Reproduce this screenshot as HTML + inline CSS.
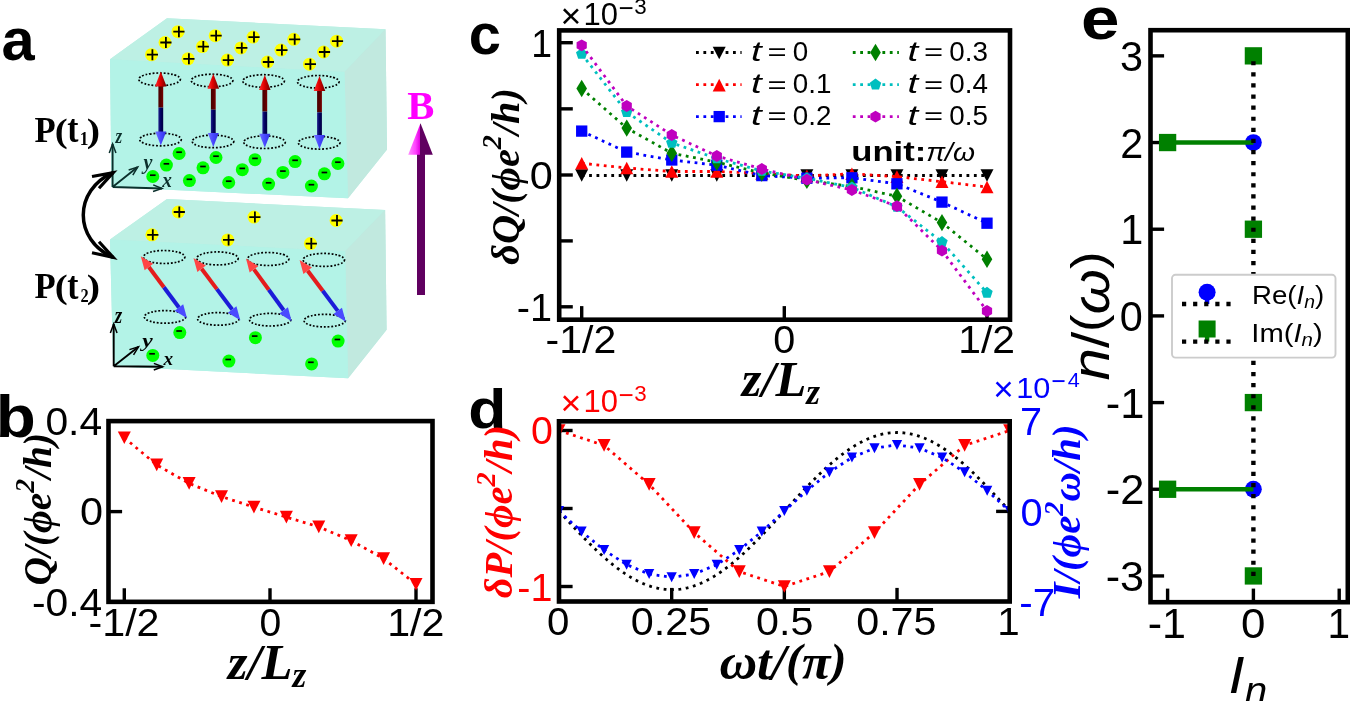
<!DOCTYPE html>
<html><head><meta charset="utf-8"><title>figure</title>
<style>html,body{margin:0;padding:0;background:#fff;overflow:hidden}svg{display:block;will-change:transform}text{font-kerning:none;font-variant-ligatures:none}</style>
</head><body>
<svg width="1350" height="701" viewBox="0 0 1350 701">
<rect width="1350" height="701" fill="#fff"/>
<defs>
<linearGradient id="gRedHead" x1="0" y1="0" x2="1" y2="0"><stop offset="0" stop-color="#ff3030"/><stop offset="0.45" stop-color="#e00000"/><stop offset="1" stop-color="#700000"/></linearGradient>
<linearGradient id="gRedShaft" x1="0" y1="0" x2="1" y2="0"><stop offset="0" stop-color="#4a0000"/><stop offset="0.5" stop-color="#560000"/><stop offset="1" stop-color="#7a0000"/></linearGradient>
<linearGradient id="gBlueShaft" x1="0" y1="0" x2="1" y2="0"><stop offset="0" stop-color="#20208a"/><stop offset="0.5" stop-color="#000060"/><stop offset="1" stop-color="#000040"/></linearGradient>
<linearGradient id="gBlueHead" x1="0" y1="0" x2="1" y2="0"><stop offset="0" stop-color="#7070ff"/><stop offset="0.5" stop-color="#4848ff"/><stop offset="1" stop-color="#3030e0"/></linearGradient>
<linearGradient id="gMagHead" x1="0" y1="0" x2="1" y2="0"><stop offset="0" stop-color="#ff90ff"/><stop offset="0.3" stop-color="#ff40ff"/><stop offset="0.48" stop-color="#e000e0"/><stop offset="0.5" stop-color="#600060"/><stop offset="1" stop-color="#600060"/></linearGradient>
<linearGradient id="gMagShaft" x1="0" y1="0" x2="1" y2="0"><stop offset="0" stop-color="#80107a"/><stop offset="0.5" stop-color="#5a0058"/><stop offset="1" stop-color="#400040"/></linearGradient>
<linearGradient id="gTilt" x1="0" y1="0" x2="1" y2="0"><stop offset="0" stop-color="#ff4040"/><stop offset="1" stop-color="#c00000"/></linearGradient>
</defs>
<polygon points="110.00,59.20 167.00,18.30 385.50,29.30 387.00,149.60 348.00,198.30 111.50,187.00" fill="#b8ede2"/>
<polygon points="110.00,239.60 167.00,199.10 385.10,210.00 386.60,329.70 348.10,378.20 113.20,366.20" fill="#b8ede2"/>
<polygon points="110.00,59.20 167.00,18.30 385.50,29.30 344.50,72.00" fill="#bdf0e4"/>
<polygon points="344.50,72.00 385.50,29.30 387.00,149.60 348.00,198.30" fill="#c1e9df"/>
<polygon points="110.00,59.20 344.50,72.00 348.00,198.30 111.50,187.00" fill="#b3f3e7"/>
<polygon points="110.00,239.60 167.00,199.10 385.10,210.00 345.20,251.30" fill="#bdf0e4"/>
<polygon points="345.20,251.30 385.10,210.00 386.60,329.70 348.10,378.20" fill="#c1e9df"/>
<polygon points="110.00,239.60 345.20,251.30 348.10,378.20 113.20,366.20" fill="#b3f3e7"/>
<circle cx="151.5" cy="54.7" r="6.5" fill="#ffff00"/>
<path d="M146.80,54.7H158.00M152.40,49.2V60.2" stroke="#000" stroke-width="1.8"/>
<circle cx="165" cy="42.5" r="6.5" fill="#ffff00"/>
<path d="M160.30,42.5H171.50M165.90,37.0V48.0" stroke="#000" stroke-width="1.8"/>
<circle cx="178" cy="31.7" r="6.5" fill="#ffff00"/>
<path d="M173.30,31.7H184.50M178.90,26.2V37.2" stroke="#000" stroke-width="1.8"/>
<circle cx="188" cy="58.8" r="6.5" fill="#ffff00"/>
<path d="M183.30,58.8H194.50M188.90,53.3V64.3" stroke="#000" stroke-width="1.8"/>
<circle cx="202.4" cy="46.6" r="6.5" fill="#ffff00"/>
<path d="M197.70,46.6H208.90M203.30,41.1V52.1" stroke="#000" stroke-width="1.8"/>
<circle cx="215.2" cy="35.7" r="6.5" fill="#ffff00"/>
<path d="M210.50,35.7H221.70M216.10,30.200000000000003V41.2" stroke="#000" stroke-width="1.8"/>
<circle cx="227.4" cy="60.1" r="6.5" fill="#ffff00"/>
<path d="M222.70,60.1H233.90M228.30,54.6V65.6" stroke="#000" stroke-width="1.8"/>
<circle cx="240.9" cy="47.9" r="6.5" fill="#ffff00"/>
<path d="M236.20,47.9H247.40M241.80,42.4V53.4" stroke="#000" stroke-width="1.8"/>
<circle cx="253.1" cy="37.1" r="6.5" fill="#ffff00"/>
<path d="M248.40,37.1H259.60M254.00,31.6V42.6" stroke="#000" stroke-width="1.8"/>
<circle cx="267.5" cy="62" r="6.5" fill="#ffff00"/>
<path d="M262.80,62H274.00M268.40,56.5V67.5" stroke="#000" stroke-width="1.8"/>
<circle cx="281" cy="50.1" r="6.5" fill="#ffff00"/>
<path d="M276.30,50.1H287.50M281.90,44.6V55.6" stroke="#000" stroke-width="1.8"/>
<circle cx="293.8" cy="39.3" r="6.5" fill="#ffff00"/>
<path d="M289.10,39.3H300.30M294.70,33.8V44.8" stroke="#000" stroke-width="1.8"/>
<circle cx="309.5" cy="64.2" r="6.5" fill="#ffff00"/>
<path d="M304.80,64.2H316.00M310.40,58.7V69.7" stroke="#000" stroke-width="1.8"/>
<circle cx="323.6" cy="52" r="6.5" fill="#ffff00"/>
<path d="M318.90,52H330.10M324.50,46.5V57.5" stroke="#000" stroke-width="1.8"/>
<circle cx="336.6" cy="41.2" r="6.5" fill="#ffff00"/>
<path d="M331.90,41.2H343.10M337.50,35.7V46.7" stroke="#000" stroke-width="1.8"/>
<circle cx="152.8" cy="176.5" r="6.5" fill="#00ff00"/>
<path d="M150.00,175.20H155.60" stroke="#000" stroke-width="1.7"/>
<circle cx="166.4" cy="165.1" r="6.5" fill="#00ff00"/>
<path d="M163.60,163.80H169.20" stroke="#000" stroke-width="1.7"/>
<circle cx="179.1" cy="153.5" r="6.5" fill="#00ff00"/>
<path d="M176.30,152.20H181.90" stroke="#000" stroke-width="1.7"/>
<circle cx="189.4" cy="180.6" r="6.5" fill="#00ff00"/>
<path d="M186.60,179.30H192.20" stroke="#000" stroke-width="1.7"/>
<circle cx="203" cy="167.79999999999998" r="6.5" fill="#00ff00"/>
<path d="M200.20,166.50H205.80" stroke="#000" stroke-width="1.7"/>
<circle cx="216" cy="157.5" r="6.5" fill="#00ff00"/>
<path d="M213.20,156.20H218.80" stroke="#000" stroke-width="1.7"/>
<circle cx="228.7" cy="182.5" r="6.5" fill="#00ff00"/>
<path d="M225.90,181.20H231.50" stroke="#000" stroke-width="1.7"/>
<circle cx="242.3" cy="169.7" r="6.5" fill="#00ff00"/>
<path d="M239.50,168.40H245.10" stroke="#000" stroke-width="1.7"/>
<circle cx="255" cy="159.7" r="6.5" fill="#00ff00"/>
<path d="M252.20,158.40H257.80" stroke="#000" stroke-width="1.7"/>
<circle cx="268.6" cy="184.1" r="6.5" fill="#00ff00"/>
<path d="M265.80,182.80H271.40" stroke="#000" stroke-width="1.7"/>
<circle cx="282.9" cy="172.39999999999998" r="6.5" fill="#00ff00"/>
<path d="M280.10,171.10H285.70" stroke="#000" stroke-width="1.7"/>
<circle cx="295.1" cy="161.6" r="6.5" fill="#00ff00"/>
<path d="M292.30,160.30H297.90" stroke="#000" stroke-width="1.7"/>
<circle cx="311.4" cy="186.0" r="6.5" fill="#00ff00"/>
<path d="M308.60,184.70H314.20" stroke="#000" stroke-width="1.7"/>
<circle cx="324.4" cy="173.79999999999998" r="6.5" fill="#00ff00"/>
<path d="M321.60,172.50H327.20" stroke="#000" stroke-width="1.7"/>
<circle cx="337.9" cy="163.5" r="6.5" fill="#00ff00"/>
<path d="M335.10,162.20H340.70" stroke="#000" stroke-width="1.7"/>
<ellipse cx="159.60000000000002" cy="79.3" rx="20.8" ry="6.3" fill="none" stroke="#000" stroke-width="1.7" stroke-dasharray="1.8 1.8"/>
<ellipse cx="160.5" cy="139.5" rx="20.8" ry="6.3" fill="none" stroke="#000" stroke-width="1.7" stroke-dasharray="1.8 1.8"/>
<ellipse cx="212.10000000000002" cy="80.5" rx="20.8" ry="6.3" fill="none" stroke="#000" stroke-width="1.7" stroke-dasharray="1.8 1.8"/>
<ellipse cx="213.0" cy="141.4" rx="20.8" ry="6.3" fill="none" stroke="#000" stroke-width="1.7" stroke-dasharray="1.8 1.8"/>
<ellipse cx="263.6" cy="81.0" rx="20.8" ry="6.3" fill="none" stroke="#000" stroke-width="1.7" stroke-dasharray="1.8 1.8"/>
<ellipse cx="264.5" cy="142.2" rx="20.8" ry="6.3" fill="none" stroke="#000" stroke-width="1.7" stroke-dasharray="1.8 1.8"/>
<ellipse cx="318.3" cy="81.8" rx="20.8" ry="6.3" fill="none" stroke="#000" stroke-width="1.7" stroke-dasharray="1.8 1.8"/>
<ellipse cx="319.2" cy="142.8" rx="20.8" ry="6.3" fill="none" stroke="#000" stroke-width="1.7" stroke-dasharray="1.8 1.8"/>
<rect x="158.4" y="85.9" width="4.8" height="21.69999999999999" fill="url(#gRedShaft)"/>
<rect x="158.4" y="107.6" width="4.8" height="24.5" fill="url(#gBlueShaft)"/>
<polygon points="160.80,71.40 166.60,86.40 155.00,86.40" fill="url(#gRedHead)"/>
<polygon points="160.80,145.60 166.30,131.60 155.30,131.60" fill="url(#gBlueHead)"/>
<rect x="210.9" y="88.2" width="4.8" height="21.5" fill="url(#gRedShaft)"/>
<rect x="210.9" y="109.7" width="4.8" height="23.700000000000003" fill="url(#gBlueShaft)"/>
<polygon points="213.30,73.70 219.10,88.70 207.50,88.70" fill="url(#gRedHead)"/>
<polygon points="213.30,146.90 218.80,132.90 207.80,132.90" fill="url(#gBlueHead)"/>
<rect x="262.40000000000003" y="89.5" width="4.8" height="22.099999999999994" fill="url(#gRedShaft)"/>
<rect x="262.40000000000003" y="111.6" width="4.8" height="22.599999999999994" fill="url(#gBlueShaft)"/>
<polygon points="264.80,75.00 270.60,90.00 259.00,90.00" fill="url(#gRedHead)"/>
<polygon points="264.80,147.70 270.30,133.70 259.30,133.70" fill="url(#gBlueHead)"/>
<rect x="317.1" y="90.4" width="4.8" height="22.0" fill="url(#gRedShaft)"/>
<rect x="317.1" y="112.4" width="4.8" height="23.099999999999994" fill="url(#gBlueShaft)"/>
<polygon points="319.50,75.90 325.30,90.90 313.70,90.90" fill="url(#gRedHead)"/>
<polygon points="319.50,149.00 325.00,135.00 314.00,135.00" fill="url(#gBlueHead)"/>
<path d="M112.6,187.0V144.0M112.6,187.0L137.7,167.0M112.6,187.0L162.0,188.5" stroke="#0b302c" stroke-width="1.9" fill="none"/>
<path d="M115.95,152.89L112.6,144.0L109.25,152.89" stroke="#0b302c" stroke-width="1.5" fill="none"/>
<path d="M132.83,175.16L137.7,167.0L128.66,169.92" stroke="#0b302c" stroke-width="1.5" fill="none"/>
<path d="M153.01,191.58L162.0,188.5L153.21,184.89" stroke="#0b302c" stroke-width="1.5" fill="none"/>
<text transform="translate(115.39,143.30) scale(0.8383,1)" font-family="Liberation Serif" font-size="20.48" font-weight="bold" font-style="italic" fill="#0b302c">z</text>
<text transform="translate(143.61,168.66) scale(0.9559,1)" font-family="Liberation Serif" font-size="21.04" font-weight="bold" font-style="italic" fill="#0b302c">y</text>
<text transform="translate(162.24,186.50) scale(0.9409,1)" font-family="Liberation Serif" font-size="20.48" font-weight="bold" font-style="italic" fill="#0b302c">x</text>
<circle cx="178.4" cy="212" r="6.5" fill="#ffff00"/>
<path d="M173.70,212H184.90M179.30,206.5V217.5" stroke="#000" stroke-width="1.8"/>
<circle cx="151.9" cy="234.8" r="6.5" fill="#ffff00"/>
<path d="M147.20,234.8H158.40M152.80,229.3V240.3" stroke="#000" stroke-width="1.8"/>
<circle cx="254" cy="217.1" r="6.5" fill="#ffff00"/>
<path d="M249.30,217.1H260.50M254.90,211.6V222.6" stroke="#000" stroke-width="1.8"/>
<circle cx="227.7" cy="239.9" r="6.5" fill="#ffff00"/>
<path d="M223.00,239.9H234.20M228.60,234.4V245.4" stroke="#000" stroke-width="1.8"/>
<circle cx="336.1" cy="220.5" r="6.5" fill="#ffff00"/>
<path d="M331.40,220.5H342.60M337.00,215.0V226.0" stroke="#000" stroke-width="1.8"/>
<circle cx="310.4" cy="243.6" r="6.5" fill="#ffff00"/>
<path d="M305.70,243.6H316.90M311.30,238.1V249.1" stroke="#000" stroke-width="1.8"/>
<circle cx="179.8" cy="332.6" r="6.5" fill="#00ff00"/>
<path d="M176.30,331.00H181.90" stroke="#000" stroke-width="1.7"/>
<circle cx="152.8" cy="355.4" r="6.5" fill="#00ff00"/>
<path d="M149.30,353.80H154.90" stroke="#000" stroke-width="1.7"/>
<circle cx="255.4" cy="337.7" r="6.5" fill="#00ff00"/>
<path d="M251.90,336.10H257.50" stroke="#000" stroke-width="1.7"/>
<circle cx="228.9" cy="361.1" r="6.5" fill="#00ff00"/>
<path d="M225.40,359.50H231.00" stroke="#000" stroke-width="1.7"/>
<circle cx="338.1" cy="341.1" r="6.5" fill="#00ff00"/>
<path d="M334.60,339.50H340.20" stroke="#000" stroke-width="1.7"/>
<circle cx="311.6" cy="363.9" r="6.5" fill="#00ff00"/>
<path d="M308.10,362.30H313.70" stroke="#000" stroke-width="1.7"/>
<ellipse cx="164.2" cy="257" rx="20.7" ry="6.5" fill="none" stroke="#000" stroke-width="1.7" stroke-dasharray="1.8 1.8"/>
<ellipse cx="165" cy="316.9" rx="20.7" ry="6.3" fill="none" stroke="#000" stroke-width="1.7" stroke-dasharray="1.8 1.8"/>
<ellipse cx="217.5" cy="258.4" rx="20.7" ry="6.5" fill="none" stroke="#000" stroke-width="1.7" stroke-dasharray="1.8 1.8"/>
<ellipse cx="218.3" cy="318.9" rx="20.7" ry="6.3" fill="none" stroke="#000" stroke-width="1.7" stroke-dasharray="1.8 1.8"/>
<ellipse cx="268.2" cy="259" rx="20.7" ry="6.5" fill="none" stroke="#000" stroke-width="1.7" stroke-dasharray="1.8 1.8"/>
<ellipse cx="270.2" cy="319.7" rx="20.7" ry="6.3" fill="none" stroke="#000" stroke-width="1.7" stroke-dasharray="1.8 1.8"/>
<ellipse cx="323.8" cy="259.9" rx="20.7" ry="6.5" fill="none" stroke="#000" stroke-width="1.7" stroke-dasharray="1.8 1.8"/>
<ellipse cx="324.7" cy="320.6" rx="20.7" ry="6.3" fill="none" stroke="#000" stroke-width="1.7" stroke-dasharray="1.8 1.8"/>
<polygon points="147.25,268.23 162.30,288.44 165.50,286.06 150.46,265.84" fill="#e41c1c"/>
<polygon points="162.30,288.44 177.34,308.66 180.55,306.27 165.50,286.06" fill="#1c1cd8"/>
<polygon points="140.80,256.20 144.61,270.19 153.11,263.87" fill="#ff4545"/>
<polygon points="187.00,318.30 174.69,310.63 183.19,304.31" fill="#4a4aff"/>
<polygon points="200.00,269.90 215.30,290.30 218.50,287.90 203.20,267.50" fill="#e41c1c"/>
<polygon points="215.30,290.30 230.60,310.70 233.80,308.30 218.50,287.90" fill="#1c1cd8"/>
<polygon points="193.50,257.90 197.36,271.88 205.84,265.52" fill="#ff4545"/>
<polygon points="240.30,320.30 227.96,312.68 236.44,306.32" fill="#4a4aff"/>
<polygon points="252.31,270.50 267.18,290.98 270.42,288.62 255.55,268.15" fill="#e41c1c"/>
<polygon points="267.18,290.98 282.05,311.45 285.29,309.10 270.42,288.62" fill="#1c1cd8"/>
<polygon points="246.00,258.40 249.64,272.44 258.22,266.21" fill="#ff4545"/>
<polygon points="291.60,321.20 279.38,313.39 287.96,307.16" fill="#4a4aff"/>
<polygon points="306.08,271.91 321.10,292.00 324.30,289.60 309.29,269.52" fill="#e41c1c"/>
<polygon points="321.10,292.00 336.11,312.08 339.32,309.69 324.30,289.60" fill="#1c1cd8"/>
<polygon points="299.60,259.90 303.44,273.89 311.93,267.54" fill="#ff4545"/>
<polygon points="345.80,321.70 333.47,314.06 341.96,307.71" fill="#4a4aff"/>
<path d="M113.7,366.2V324.0M113.7,366.2L138.5,346.8M113.7,366.2L162.7,366.8" stroke="#000000" stroke-width="1.9" fill="none"/>
<path d="M117.05,332.89L113.7,324.0L110.35,332.89" stroke="#000000" stroke-width="1.5" fill="none"/>
<path d="M133.56,354.91L138.5,346.8L129.44,349.64" stroke="#000000" stroke-width="1.5" fill="none"/>
<path d="M153.77,370.04L162.7,366.8L153.85,363.34" stroke="#000000" stroke-width="1.5" fill="none"/>
<text transform="translate(114.84,323.40) scale(0.8118,1)" font-family="Liberation Serif" font-size="23.53" font-weight="bold" font-style="italic" fill="#000000">z</text>
<text transform="translate(142.26,347.01) scale(1.2436,1)" font-family="Liberation Serif" font-size="18.97" font-weight="bold" font-style="italic" fill="#000000">y</text>
<text transform="translate(163.54,364.50) scale(0.9720,1)" font-family="Liberation Serif" font-size="19.83" font-weight="bold" font-style="italic" fill="#000000">x</text>
<path d="M113.2,172.6 C73.3,190 73.3,240 113.2,257.4" fill="none" stroke="#000" stroke-width="3.5"/>
<path d="M92,176.5 L113.2,172.6 L99,188.3" fill="none" stroke="#000" stroke-width="3.2" stroke-linejoin="miter"/>
<path d="M92,252.7 L113.2,257.4 L99,241.7" fill="none" stroke="#000" stroke-width="3.2" stroke-linejoin="miter"/>
<text transform="translate(34.41,141.70) scale(0.9826,1)" font-family="Liberation Serif" font-size="35.28" font-weight="bold" font-style="normal" fill="#000">P</text>
<text transform="translate(54.69,141.65) scale(1.1425,1)" font-family="Liberation Serif" font-size="34.08" font-weight="bold" font-style="normal" fill="#000">(</text>
<text transform="translate(67.26,142.02) scale(0.8591,1)" font-family="Liberation Serif" font-size="39.11" font-weight="bold" font-style="normal" fill="#000">t</text>
<text transform="translate(79.81,144.90) scale(0.8896,1)" font-family="Liberation Serif" font-size="19.54" font-weight="bold" font-style="normal" fill="#000">1</text>
<text transform="translate(86.81,141.65) scale(1.1768,1)" font-family="Liberation Serif" font-size="34.08" font-weight="bold" font-style="normal" fill="#000">)</text>
<text transform="translate(34.41,298.40) scale(0.9826,1)" font-family="Liberation Serif" font-size="35.28" font-weight="bold" font-style="normal" fill="#000">P</text>
<text transform="translate(54.69,298.35) scale(1.1425,1)" font-family="Liberation Serif" font-size="34.08" font-weight="bold" font-style="normal" fill="#000">(</text>
<text transform="translate(67.26,298.72) scale(0.8591,1)" font-family="Liberation Serif" font-size="39.11" font-weight="bold" font-style="normal" fill="#000">t</text>
<text transform="translate(80.51,301.60) scale(0.8409,1)" font-family="Liberation Serif" font-size="19.48" font-weight="bold" font-style="normal" fill="#000">2</text>
<text transform="translate(86.81,298.35) scale(1.1768,1)" font-family="Liberation Serif" font-size="34.08" font-weight="bold" font-style="normal" fill="#000">)</text>
<text transform="translate(407.33,118.58) scale(1.0202,1)" font-family="Liberation Serif" font-size="39.83" font-weight="bold" font-style="normal" fill="#ff00ff">B</text>
<rect x="417.0" y="154" width="8.0" height="141.0" fill="#600060"/>
<polygon points="420.50,123.20 432.80,154.80 408.20,154.80" fill="url(#gMagHead)"/>
<line x1="124.3" y1="601.85" x2="124.3" y2="588.25" stroke="#000" stroke-width="3.4"/>
<line x1="270" y1="601.85" x2="270" y2="588.25" stroke="#000" stroke-width="3.4"/>
<line x1="416" y1="601.85" x2="416" y2="588.25" stroke="#000" stroke-width="3.4"/>
<line x1="108.5" y1="511.6" x2="122.1" y2="511.6" stroke="#000" stroke-width="3.4"/>
<clipPath id="cb"><rect x="108.5" y="421.1" width="324.0" height="180.75"/></clipPath>
<g clip-path="url(#cb)">
<polyline points="124.30,437.70 156.71,464.90 189.12,483.40 221.53,496.60 253.94,507.10 286.36,517.10 318.77,526.90 351.18,540.60 383.59,558.60 416.00,584.20" fill="none" stroke="#ff0000" stroke-width="2.8" stroke-dasharray="2.8 4.6"/>
<polygon points="117.80,431.39 130.80,431.39 124.30,444.00" fill="#ff0000"/>
<polygon points="150.21,458.59 163.21,458.59 156.71,471.20" fill="#ff0000"/>
<polygon points="182.62,477.09 195.62,477.09 189.12,489.70" fill="#ff0000"/>
<polygon points="215.03,490.30 228.03,490.30 221.53,502.91" fill="#ff0000"/>
<polygon points="247.44,500.80 260.44,500.80 253.94,513.40" fill="#ff0000"/>
<polygon points="279.86,510.80 292.86,510.80 286.36,523.40" fill="#ff0000"/>
<polygon points="312.27,520.60 325.27,520.60 318.77,533.20" fill="#ff0000"/>
<polygon points="344.68,534.30 357.68,534.30 351.18,546.90" fill="#ff0000"/>
<polygon points="377.09,552.30 390.09,552.30 383.59,564.90" fill="#ff0000"/>
<polygon points="409.50,577.90 422.50,577.90 416.00,590.50" fill="#ff0000"/>
</g>
<rect x="108.5" y="421.1" width="324.0" height="180.75" fill="none" stroke="#000" stroke-width="4.6"/>
<text transform="translate(45.40,434.70) scale(1.0557,1)" font-family="Liberation Sans" font-size="38.70" font-weight="normal" font-style="normal" fill="#000">0.4</text>
<text transform="translate(80.08,525.30) scale(1.0703,1)" font-family="Liberation Sans" font-size="38.70" font-weight="normal" font-style="normal" fill="#000">0</text>
<text transform="translate(31.89,615.70) scale(1.0543,1)" font-family="Liberation Sans" font-size="38.70" font-weight="normal" font-style="normal" fill="#000">-0.4</text>
<text transform="translate(88.47,636.00) scale(1.0663,1)" font-family="Liberation Sans" font-size="38.70" font-weight="normal" font-style="normal" fill="#000">-1/2</text>
<text transform="translate(259.47,635.60) scale(1.0108,1)" font-family="Liberation Sans" font-size="38.70" font-weight="normal" font-style="normal" fill="#000">0</text>
<text transform="translate(387.17,636.00) scale(1.0633,1)" font-family="Liberation Sans" font-size="38.70" font-weight="normal" font-style="normal" fill="#000">1/2</text>
<line x1="581.7" y1="319.7" x2="581.7" y2="306.09999999999997" stroke="#000" stroke-width="3.4"/>
<line x1="784.3" y1="319.7" x2="784.3" y2="306.09999999999997" stroke="#000" stroke-width="3.4"/>
<line x1="987.0" y1="319.7" x2="987.0" y2="306.09999999999997" stroke="#000" stroke-width="3.4"/>
<line x1="559.2" y1="42.7" x2="572.8000000000001" y2="42.7" stroke="#000" stroke-width="3.4"/>
<line x1="559.2" y1="108.85" x2="572.8000000000001" y2="108.85" stroke="#000" stroke-width="3.4"/>
<line x1="559.2" y1="175.0" x2="572.8000000000001" y2="175.0" stroke="#000" stroke-width="3.4"/>
<line x1="559.2" y1="240.9" x2="572.8000000000001" y2="240.9" stroke="#000" stroke-width="3.4"/>
<line x1="559.2" y1="306.8" x2="572.8000000000001" y2="306.8" stroke="#000" stroke-width="3.4"/>
<clipPath id="cc"><rect x="559.2" y="30.4" width="450.79999999999995" height="289.3"/></clipPath>
<g clip-path="url(#cc)">
<polyline points="581.70,175.50 626.73,175.50 671.77,175.50 716.80,175.50 761.83,175.50 806.87,175.50 851.90,175.50 896.93,175.50 941.97,175.50 987.00,175.50" fill="none" stroke="#000000" stroke-width="2.8" stroke-dasharray="2.8 4.6"/>
<polygon points="575.20,169.19 588.20,169.19 581.70,181.81" fill="#000000"/>
<polygon points="620.23,169.19 633.23,169.19 626.73,181.81" fill="#000000"/>
<polygon points="665.27,169.19 678.27,169.19 671.77,181.81" fill="#000000"/>
<polygon points="710.30,169.19 723.30,169.19 716.80,181.81" fill="#000000"/>
<polygon points="755.33,169.19 768.33,169.19 761.83,181.81" fill="#000000"/>
<polygon points="800.37,169.19 813.37,169.19 806.87,181.81" fill="#000000"/>
<polygon points="845.40,169.19 858.40,169.19 851.90,181.81" fill="#000000"/>
<polygon points="890.43,169.19 903.43,169.19 896.93,181.81" fill="#000000"/>
<polygon points="935.47,169.19 948.47,169.19 941.97,181.81" fill="#000000"/>
<polygon points="980.50,169.19 993.50,169.19 987.00,181.81" fill="#000000"/>
<polyline points="581.70,163.20 626.73,168.00 671.77,171.50 716.80,171.50 761.83,173.40 806.87,175.90 851.90,173.80 896.93,176.60 941.97,181.70 987.00,187.00" fill="none" stroke="#ff0000" stroke-width="2.8" stroke-dasharray="2.8 4.6"/>
<polygon points="575.20,169.50 588.20,169.50 581.70,156.89" fill="#ff0000"/>
<polygon points="620.23,174.31 633.23,174.31 626.73,161.69" fill="#ff0000"/>
<polygon points="665.27,177.81 678.27,177.81 671.77,165.19" fill="#ff0000"/>
<polygon points="710.30,177.81 723.30,177.81 716.80,165.19" fill="#ff0000"/>
<polygon points="755.33,179.71 768.33,179.71 761.83,167.09" fill="#ff0000"/>
<polygon points="800.37,182.21 813.37,182.21 806.87,169.59" fill="#ff0000"/>
<polygon points="845.40,180.11 858.40,180.11 851.90,167.50" fill="#ff0000"/>
<polygon points="890.43,182.91 903.43,182.91 896.93,170.29" fill="#ff0000"/>
<polygon points="935.47,188.00 948.47,188.00 941.97,175.39" fill="#ff0000"/>
<polygon points="980.50,193.31 993.50,193.31 987.00,180.69" fill="#ff0000"/>
<polyline points="581.70,131.10 626.73,152.10 671.77,160.00 716.80,165.20 761.83,175.60 806.87,178.20 851.90,177.80 896.93,183.80 941.97,202.10 987.00,223.20" fill="none" stroke="#0000ff" stroke-width="2.8" stroke-dasharray="2.8 4.6"/>
<rect x="576.05" y="125.45" width="11.30" height="11.30" fill="#0000ff"/>
<rect x="621.08" y="146.45" width="11.30" height="11.30" fill="#0000ff"/>
<rect x="666.12" y="154.35" width="11.30" height="11.30" fill="#0000ff"/>
<rect x="711.15" y="159.55" width="11.30" height="11.30" fill="#0000ff"/>
<rect x="756.18" y="169.95" width="11.30" height="11.30" fill="#0000ff"/>
<rect x="801.22" y="172.55" width="11.30" height="11.30" fill="#0000ff"/>
<rect x="846.25" y="172.15" width="11.30" height="11.30" fill="#0000ff"/>
<rect x="891.28" y="178.15" width="11.30" height="11.30" fill="#0000ff"/>
<rect x="936.32" y="196.45" width="11.30" height="11.30" fill="#0000ff"/>
<rect x="981.35" y="217.55" width="11.30" height="11.30" fill="#0000ff"/>
<polyline points="581.70,88.50 626.73,128.10 671.77,153.20 716.80,162.20 761.83,172.90 806.87,180.40 851.90,186.50 896.93,196.30 941.97,222.60 987.00,259.20" fill="none" stroke="#008000" stroke-width="2.8" stroke-dasharray="2.8 4.6"/>
<polygon points="581.70,79.80 587.00,88.50 581.70,97.20 576.40,88.50" fill="#008000"/>
<polygon points="626.73,119.40 632.03,128.10 626.73,136.80 621.43,128.10" fill="#008000"/>
<polygon points="671.77,144.50 677.07,153.20 671.77,161.90 666.47,153.20" fill="#008000"/>
<polygon points="716.80,153.50 722.10,162.20 716.80,170.90 711.50,162.20" fill="#008000"/>
<polygon points="761.83,164.20 767.13,172.90 761.83,181.60 756.53,172.90" fill="#008000"/>
<polygon points="806.87,171.70 812.17,180.40 806.87,189.10 801.57,180.40" fill="#008000"/>
<polygon points="851.90,177.80 857.20,186.50 851.90,195.20 846.60,186.50" fill="#008000"/>
<polygon points="896.93,187.60 902.23,196.30 896.93,205.00 891.63,196.30" fill="#008000"/>
<polygon points="941.97,213.90 947.27,222.60 941.97,231.30 936.67,222.60" fill="#008000"/>
<polygon points="987.00,250.50 992.30,259.20 987.00,267.90 981.70,259.20" fill="#008000"/>
<polyline points="581.70,54.00 626.73,112.10 671.77,142.90 716.80,158.50 761.83,171.00 806.87,178.30 851.90,187.40 896.93,206.80 941.97,242.10 987.00,292.80" fill="none" stroke="#00bfbf" stroke-width="2.8" stroke-dasharray="2.8 4.6"/>
<polygon points="581.70,48.00 587.41,52.15 585.23,58.85 578.17,58.85 575.99,52.15" fill="#00bfbf"/>
<polygon points="626.73,106.10 632.44,110.25 630.26,116.95 623.21,116.95 621.03,110.25" fill="#00bfbf"/>
<polygon points="671.77,136.90 677.47,141.05 675.29,147.75 668.24,147.75 666.06,141.05" fill="#00bfbf"/>
<polygon points="716.80,152.50 722.51,156.65 720.33,163.35 713.27,163.35 711.09,156.65" fill="#00bfbf"/>
<polygon points="761.83,165.00 767.54,169.15 765.36,175.85 758.31,175.85 756.13,169.15" fill="#00bfbf"/>
<polygon points="806.87,172.30 812.57,176.45 810.39,183.15 803.34,183.15 801.16,176.45" fill="#00bfbf"/>
<polygon points="851.90,181.40 857.61,185.55 855.43,192.25 848.37,192.25 846.19,185.55" fill="#00bfbf"/>
<polygon points="896.93,200.80 902.64,204.95 900.46,211.65 893.41,211.65 891.23,204.95" fill="#00bfbf"/>
<polygon points="941.97,236.10 947.67,240.25 945.49,246.95 938.44,246.95 936.26,240.25" fill="#00bfbf"/>
<polygon points="987.00,286.80 992.71,290.95 990.53,297.65 983.47,297.65 981.29,290.95" fill="#00bfbf"/>
<polyline points="581.70,45.30 626.73,106.00 671.77,135.00 716.80,156.00 761.83,169.00 806.87,179.70 851.90,190.00 896.93,206.20 941.97,250.60 987.00,311.00" fill="none" stroke="#bf00bf" stroke-width="2.8" stroke-dasharray="2.8 4.6"/>
<polygon points="581.70,39.40 586.81,42.35 586.81,48.25 581.70,51.20 576.59,48.25 576.59,42.35" fill="#bf00bf"/>
<polygon points="626.73,100.10 631.84,103.05 631.84,108.95 626.73,111.90 621.62,108.95 621.62,103.05" fill="#bf00bf"/>
<polygon points="671.77,129.10 676.88,132.05 676.88,137.95 671.77,140.90 666.66,137.95 666.66,132.05" fill="#bf00bf"/>
<polygon points="716.80,150.10 721.91,153.05 721.91,158.95 716.80,161.90 711.69,158.95 711.69,153.05" fill="#bf00bf"/>
<polygon points="761.83,163.10 766.94,166.05 766.94,171.95 761.83,174.90 756.72,171.95 756.72,166.05" fill="#bf00bf"/>
<polygon points="806.87,173.80 811.98,176.75 811.98,182.65 806.87,185.60 801.76,182.65 801.76,176.75" fill="#bf00bf"/>
<polygon points="851.90,184.10 857.01,187.05 857.01,192.95 851.90,195.90 846.79,192.95 846.79,187.05" fill="#bf00bf"/>
<polygon points="896.93,200.30 902.04,203.25 902.04,209.15 896.93,212.10 891.82,209.15 891.82,203.25" fill="#bf00bf"/>
<polygon points="941.97,244.70 947.08,247.65 947.08,253.55 941.97,256.50 936.86,253.55 936.86,247.65" fill="#bf00bf"/>
<polygon points="987.00,305.10 992.11,308.05 992.11,313.95 987.00,316.90 981.89,313.95 981.89,308.05" fill="#bf00bf"/>
</g>
<rect x="559.2" y="30.4" width="450.79999999999995" height="289.3" fill="none" stroke="#000" stroke-width="4.6"/>
<text transform="translate(531.16,57.00) scale(0.9649,1)" font-family="Liberation Sans" font-size="38.70" font-weight="normal" font-style="normal" fill="#000">1</text>
<text transform="translate(529.69,188.60) scale(1.0700,1)" font-family="Liberation Sans" font-size="38.70" font-weight="normal" font-style="normal" fill="#000">0</text>
<text transform="translate(516.84,320.70) scale(1.0259,1)" font-family="Liberation Sans" font-size="38.70" font-weight="normal" font-style="normal" fill="#000">-1</text>
<text transform="translate(545.58,352.80) scale(1.0600,1)" font-family="Liberation Sans" font-size="38.70" font-weight="normal" font-style="normal" fill="#000">-1/2</text>
<text transform="translate(773.36,353.20) scale(1.0216,1)" font-family="Liberation Sans" font-size="38.70" font-weight="normal" font-style="normal" fill="#000">0</text>
<text transform="translate(958.19,352.80) scale(1.0551,1)" font-family="Liberation Sans" font-size="38.70" font-weight="normal" font-style="normal" fill="#000">1/2</text>
<text transform="translate(560.53,27.61) scale(1.0011,1)" font-family="Liberation Sans" font-size="35.63" font-weight="normal" font-style="normal" fill="#000">×</text>
<text transform="translate(583.54,25.00) scale(1.0158,1)" font-family="Liberation Sans" font-size="30.51" font-weight="normal" font-style="normal" fill="#000">10</text>
<text transform="translate(618.82,16.81) scale(0.9731,1)" font-family="Liberation Sans" font-size="26.65" font-weight="normal" font-style="normal" fill="#000">−</text>
<text transform="translate(634.35,14.09) scale(1.0483,1)" font-family="Liberation Sans" font-size="21.33" font-weight="normal" font-style="normal" fill="#000">3</text>
<polyline points="696.00,52.50 741.60,52.50" fill="none" stroke="#000000" stroke-width="2.8" stroke-dasharray="2.8 4.6"/>
<polygon points="712.70,46.70 725.70,46.70 719.20,59.30" fill="#000000"/>
<text transform="translate(750.95,60.60) scale(1.4283,1)" font-family="Liberation Sans" font-size="27.00" font-weight="normal" font-style="italic" fill="#000">t</text>
<text transform="translate(767.40,60.37) scale(1.3521,1)" font-family="Liberation Sans" font-size="24.20" font-weight="normal" font-style="normal" fill="#000">=</text>
<text transform="translate(792.71,60.60) scale(1.0300,1)" font-family="Liberation Sans" font-size="27.00" font-weight="normal" font-style="normal" fill="#000">0</text>
<polyline points="696.00,84.60 741.60,84.60" fill="none" stroke="#ff0000" stroke-width="2.8" stroke-dasharray="2.8 4.6"/>
<polygon points="712.70,91.41 725.70,91.41 719.20,78.79" fill="#ff0000"/>
<text transform="translate(750.95,92.80) scale(1.4283,1)" font-family="Liberation Sans" font-size="27.00" font-weight="normal" font-style="italic" fill="#000">t</text>
<text transform="translate(767.40,92.57) scale(1.3521,1)" font-family="Liberation Sans" font-size="24.20" font-weight="normal" font-style="normal" fill="#000">=</text>
<text transform="translate(792.71,92.80) scale(1.0300,1)" font-family="Liberation Sans" font-size="27.00" font-weight="normal" font-style="normal" fill="#000">0.1</text>
<polyline points="696.00,116.60 741.60,116.60" fill="none" stroke="#0000ff" stroke-width="2.8" stroke-dasharray="2.8 4.6"/>
<rect x="713.55" y="110.95" width="11.30" height="11.30" fill="#0000ff"/>
<text transform="translate(750.95,124.60) scale(1.4283,1)" font-family="Liberation Sans" font-size="27.00" font-weight="normal" font-style="italic" fill="#000">t</text>
<text transform="translate(767.40,124.37) scale(1.3521,1)" font-family="Liberation Sans" font-size="24.20" font-weight="normal" font-style="normal" fill="#000">=</text>
<text transform="translate(792.71,124.60) scale(1.0300,1)" font-family="Liberation Sans" font-size="27.00" font-weight="normal" font-style="normal" fill="#000">0.2</text>
<polyline points="852.80,52.50 898.90,52.50" fill="none" stroke="#008000" stroke-width="2.8" stroke-dasharray="2.8 4.6"/>
<polygon points="875.50,43.80 880.80,52.50 875.50,61.20 870.20,52.50" fill="#008000"/>
<text transform="translate(907.45,60.60) scale(1.4283,1)" font-family="Liberation Sans" font-size="27.00" font-weight="normal" font-style="italic" fill="#000">t</text>
<text transform="translate(923.90,60.37) scale(1.3521,1)" font-family="Liberation Sans" font-size="24.20" font-weight="normal" font-style="normal" fill="#000">=</text>
<text transform="translate(949.21,60.60) scale(1.0300,1)" font-family="Liberation Sans" font-size="27.00" font-weight="normal" font-style="normal" fill="#000">0.3</text>
<polyline points="852.80,84.60 898.90,84.60" fill="none" stroke="#00bfbf" stroke-width="2.8" stroke-dasharray="2.8 4.6"/>
<polygon points="875.50,78.60 881.21,82.75 879.03,89.45 871.97,89.45 869.79,82.75" fill="#00bfbf"/>
<text transform="translate(907.45,92.80) scale(1.4283,1)" font-family="Liberation Sans" font-size="27.00" font-weight="normal" font-style="italic" fill="#000">t</text>
<text transform="translate(923.90,92.57) scale(1.3521,1)" font-family="Liberation Sans" font-size="24.20" font-weight="normal" font-style="normal" fill="#000">=</text>
<text transform="translate(949.21,92.80) scale(1.0300,1)" font-family="Liberation Sans" font-size="27.00" font-weight="normal" font-style="normal" fill="#000">0.4</text>
<polyline points="852.80,116.60 898.90,116.60" fill="none" stroke="#bf00bf" stroke-width="2.8" stroke-dasharray="2.8 4.6"/>
<polygon points="875.50,110.70 880.61,113.65 880.61,119.55 875.50,122.50 870.39,119.55 870.39,113.65" fill="#bf00bf"/>
<text transform="translate(907.45,124.60) scale(1.4283,1)" font-family="Liberation Sans" font-size="27.00" font-weight="normal" font-style="italic" fill="#000">t</text>
<text transform="translate(923.90,124.37) scale(1.3521,1)" font-family="Liberation Sans" font-size="24.20" font-weight="normal" font-style="normal" fill="#000">=</text>
<text transform="translate(949.21,124.60) scale(1.0300,1)" font-family="Liberation Sans" font-size="27.00" font-weight="normal" font-style="normal" fill="#000">0.5</text>
<text transform="translate(851.35,160.60) scale(1.2148,1)" font-family="Liberation Sans" font-size="28.50" font-weight="bold" font-style="normal" fill="#000">unit:</text>
<text transform="translate(926.14,160.60) scale(1.0883,1)" font-family="Liberation Sans" font-size="26.00" font-weight="normal" font-style="italic" fill="#000">π/ω</text>
<line x1="671.675" y1="601.5" x2="671.675" y2="587.9" stroke="#000" stroke-width="3.4"/>
<line x1="784.35" y1="601.5" x2="784.35" y2="587.9" stroke="#000" stroke-width="3.4"/>
<line x1="897.025" y1="601.5" x2="897.025" y2="587.9" stroke="#000" stroke-width="3.4"/>
<line x1="559.0" y1="430.5" x2="572.6" y2="430.5" stroke="#000" stroke-width="3.4"/>
<line x1="559.0" y1="508.5" x2="572.6" y2="508.5" stroke="#000" stroke-width="3.4"/>
<line x1="559.0" y1="586.5" x2="572.6" y2="586.5" stroke="#000" stroke-width="3.4"/>
<line x1="1009.7" y1="511.4" x2="996.1" y2="511.4" stroke="#000" stroke-width="3.4"/>
<clipPath id="cd"><rect x="559.0" y="421.3" width="450.70000000000005" height="180.2"/></clipPath>
<g clip-path="url(#cd)">
<polyline points="559.00,511.10 561.25,513.57 563.51,516.04 565.76,518.50 568.01,520.95 570.27,523.40 572.52,525.83 574.77,528.25 577.03,530.65 579.28,533.03 581.53,535.39 583.79,537.72 586.04,540.03 588.30,542.32 590.55,544.57 592.80,546.78 595.06,548.97 597.31,551.11 599.56,553.22 601.82,555.28 604.07,557.30 606.32,559.27 608.58,561.20 610.83,563.08 613.08,564.91 615.34,566.68 617.59,568.40 619.84,570.06 622.10,571.66 624.35,573.21 626.61,574.69 628.86,576.11 631.11,577.46 633.37,578.75 635.62,579.98 637.87,581.13 640.13,582.22 642.38,583.24 644.63,584.18 646.89,585.05 649.14,585.85 651.39,586.58 653.65,587.23 655.90,587.81 658.15,588.31 660.41,588.73 662.66,589.08 664.91,589.35 667.17,589.54 669.42,589.66 671.67,589.70 673.93,589.66 676.18,589.54 678.44,589.35 680.69,589.08 682.94,588.73 685.20,588.31 687.45,587.81 689.70,587.23 691.96,586.58 694.21,585.85 696.46,585.05 698.72,584.18 700.97,583.24 703.22,582.22 705.48,581.13 707.73,579.98 709.98,578.75 712.24,577.46 714.49,576.11 716.75,574.69 719.00,573.21 721.25,571.66 723.51,570.06 725.76,568.40 728.01,566.68 730.27,564.91 732.52,563.08 734.77,561.20 737.03,559.27 739.28,557.30 741.53,555.28 743.79,553.22 746.04,551.11 748.29,548.97 750.55,546.78 752.80,544.57 755.05,542.32 757.31,540.03 759.56,537.72 761.82,535.39 764.07,533.03 766.32,530.65 768.58,528.25 770.83,525.83 773.08,523.40 775.34,520.95 777.59,518.50 779.84,516.04 782.10,513.57 784.35,511.10 786.60,508.63 788.86,506.16 791.11,503.70 793.36,501.25 795.62,498.80 797.87,496.37 800.12,493.95 802.38,491.55 804.63,489.17 806.88,486.81 809.14,484.48 811.39,482.17 813.65,479.88 815.90,477.63 818.15,475.42 820.41,473.23 822.66,471.09 824.91,468.98 827.17,466.92 829.42,464.90 831.67,462.93 833.93,461.00 836.18,459.12 838.43,457.29 840.69,455.52 842.94,453.80 845.19,452.14 847.45,450.54 849.70,448.99 851.95,447.51 854.21,446.09 856.46,444.74 858.72,443.45 860.97,442.22 863.22,441.07 865.48,439.98 867.73,438.96 869.98,438.02 872.24,437.15 874.49,436.35 876.74,435.62 879.00,434.97 881.25,434.39 883.50,433.89 885.76,433.47 888.01,433.12 890.26,432.85 892.52,432.66 894.77,432.54 897.02,432.50 899.28,432.54 901.53,432.66 903.79,432.85 906.04,433.12 908.29,433.47 910.55,433.89 912.80,434.39 915.05,434.97 917.31,435.62 919.56,436.35 921.81,437.15 924.07,438.02 926.32,438.96 928.57,439.98 930.83,441.07 933.08,442.22 935.33,443.45 937.59,444.74 939.84,446.09 942.10,447.51 944.35,448.99 946.60,450.54 948.86,452.14 951.11,453.80 953.36,455.52 955.62,457.29 957.87,459.12 960.12,461.00 962.38,462.93 964.63,464.90 966.88,466.92 969.14,468.98 971.39,471.09 973.64,473.23 975.90,475.42 978.15,477.63 980.40,479.88 982.66,482.17 984.91,484.48 987.16,486.81 989.42,489.17 991.67,491.55 993.93,493.95 996.18,496.37 998.43,498.80 1000.69,501.25 1002.94,503.70 1005.19,506.16 1007.45,508.63 1009.70,511.10" fill="none" stroke="#000000" stroke-width="2.8" stroke-dasharray="2.8 4.6"/>
<polyline points="559.00,430.50 604.07,445.40 649.14,484.40 694.21,532.60 739.28,571.60 784.35,586.50 829.42,571.60 874.49,532.60 919.56,484.40 964.63,445.40 1009.70,430.50" fill="none" stroke="#ff0000" stroke-width="2.8" stroke-dasharray="2.8 4.6"/>
<polygon points="552.50,424.19 565.50,424.19 559.00,436.81" fill="#ff0000"/>
<polygon points="597.57,439.09 610.57,439.09 604.07,451.70" fill="#ff0000"/>
<polygon points="642.64,478.09 655.64,478.09 649.14,490.70" fill="#ff0000"/>
<polygon points="687.71,526.30 700.71,526.30 694.21,538.91" fill="#ff0000"/>
<polygon points="732.78,565.30 745.78,565.30 739.28,577.91" fill="#ff0000"/>
<polygon points="777.85,580.20 790.85,580.20 784.35,592.80" fill="#ff0000"/>
<polygon points="822.92,565.30 835.92,565.30 829.42,577.91" fill="#ff0000"/>
<polygon points="867.99,526.30 880.99,526.30 874.49,538.91" fill="#ff0000"/>
<polygon points="913.06,478.09 926.06,478.09 919.56,490.70" fill="#ff0000"/>
<polygon points="958.13,439.09 971.13,439.09 964.63,451.70" fill="#ff0000"/>
<polygon points="1003.20,424.19 1016.20,424.19 1009.70,436.81" fill="#ff0000"/>
<polyline points="559.00,511.10 581.53,531.56 604.07,550.01 626.61,564.66 649.14,574.06 671.67,577.30 694.21,574.06 716.75,564.66 739.28,550.01 761.82,531.56 784.35,511.10 806.88,490.64 829.42,472.19 851.95,457.54 874.49,448.14 897.02,444.90 919.56,448.14 942.10,457.54 964.63,472.19 987.16,490.64 1009.70,511.10" fill="none" stroke="#0000ff" stroke-width="2.8" stroke-dasharray="2.8 4.6"/>
<polygon points="553.85,506.10 564.15,506.10 559.00,516.10" fill="#0000ff"/>
<polygon points="576.38,526.56 586.68,526.56 581.53,536.55" fill="#0000ff"/>
<polygon points="598.92,545.02 609.22,545.02 604.07,555.01" fill="#0000ff"/>
<polygon points="621.46,559.66 631.75,559.66 626.61,569.65" fill="#0000ff"/>
<polygon points="643.99,569.06 654.29,569.06 649.14,579.06" fill="#0000ff"/>
<polygon points="666.52,572.30 676.82,572.30 671.67,582.30" fill="#0000ff"/>
<polygon points="689.06,569.06 699.36,569.06 694.21,579.06" fill="#0000ff"/>
<polygon points="711.60,559.66 721.89,559.66 716.75,569.65" fill="#0000ff"/>
<polygon points="734.13,545.02 744.43,545.02 739.28,555.01" fill="#0000ff"/>
<polygon points="756.67,526.56 766.97,526.56 761.82,536.55" fill="#0000ff"/>
<polygon points="779.20,506.10 789.50,506.10 784.35,516.10" fill="#0000ff"/>
<polygon points="801.74,485.65 812.03,485.65 806.88,495.64" fill="#0000ff"/>
<polygon points="824.27,467.19 834.57,467.19 829.42,477.18" fill="#0000ff"/>
<polygon points="846.80,452.55 857.10,452.55 851.95,462.54" fill="#0000ff"/>
<polygon points="869.34,443.14 879.64,443.14 874.49,453.14" fill="#0000ff"/>
<polygon points="891.88,439.90 902.17,439.90 897.02,449.90" fill="#0000ff"/>
<polygon points="914.41,443.14 924.71,443.14 919.56,453.14" fill="#0000ff"/>
<polygon points="936.95,452.55 947.25,452.55 942.10,462.54" fill="#0000ff"/>
<polygon points="959.48,467.19 969.78,467.19 964.63,477.18" fill="#0000ff"/>
<polygon points="982.01,485.65 992.31,485.65 987.16,495.64" fill="#0000ff"/>
<polygon points="1004.55,506.10 1014.85,506.10 1009.70,516.10" fill="#0000ff"/>
</g>
<rect x="559.0" y="421.3" width="450.70000000000005" height="180.2" fill="none" stroke="#000" stroke-width="4.6"/>
<text transform="translate(531.06,443.80) scale(1.0162,1)" font-family="Liberation Sans" font-size="38.70" font-weight="normal" font-style="normal" fill="#ff0000">0</text>
<text transform="translate(517.24,600.60) scale(1.0227,1)" font-family="Liberation Sans" font-size="38.70" font-weight="normal" font-style="normal" fill="#ff0000">-1</text>
<text transform="translate(1019.97,435.00) scale(1.0232,1)" font-family="Liberation Sans" font-size="38.70" font-weight="normal" font-style="normal" fill="#0000ff">7</text>
<text transform="translate(1020.45,525.60) scale(1.0270,1)" font-family="Liberation Sans" font-size="38.70" font-weight="normal" font-style="normal" fill="#0000ff">0</text>
<text transform="translate(1019.20,615.80) scale(1.0441,1)" font-family="Liberation Sans" font-size="38.70" font-weight="normal" font-style="normal" fill="#0000ff">-7</text>
<text transform="translate(546.93,635.00) scale(1.0379,1)" font-family="Liberation Sans" font-size="38.70" font-weight="normal" font-style="normal" fill="#000">0</text>
<text transform="translate(630.79,635.00) scale(1.0681,1)" font-family="Liberation Sans" font-size="38.70" font-weight="normal" font-style="normal" fill="#000">0.25</text>
<text transform="translate(755.99,635.00) scale(1.0659,1)" font-family="Liberation Sans" font-size="38.70" font-weight="normal" font-style="normal" fill="#000">0.5</text>
<text transform="translate(856.19,635.00) scale(1.0667,1)" font-family="Liberation Sans" font-size="38.70" font-weight="normal" font-style="normal" fill="#000">0.75</text>
<text transform="translate(997.23,635.00) scale(1.0428,1)" font-family="Liberation Sans" font-size="38.70" font-weight="normal" font-style="normal" fill="#000">1</text>
<text transform="translate(560.53,414.91) scale(1.0011,1)" font-family="Liberation Sans" font-size="35.63" font-weight="normal" font-style="normal" fill="#ff0000">×</text>
<text transform="translate(583.54,412.30) scale(1.0158,1)" font-family="Liberation Sans" font-size="30.51" font-weight="normal" font-style="normal" fill="#ff0000">10</text>
<text transform="translate(618.82,404.11) scale(0.9731,1)" font-family="Liberation Sans" font-size="26.65" font-weight="normal" font-style="normal" fill="#ff0000">−</text>
<text transform="translate(634.35,401.39) scale(1.0483,1)" font-family="Liberation Sans" font-size="21.33" font-weight="normal" font-style="normal" fill="#ff0000">3</text>
<text transform="translate(993.27,400.84) scale(1.0011,1)" font-family="Liberation Sans" font-size="34.95" font-weight="normal" font-style="normal" fill="#0000ff">×</text>
<text transform="translate(1016.16,397.71) scale(1.0497,1)" font-family="Liberation Sans" font-size="29.24" font-weight="normal" font-style="normal" fill="#0000ff">10</text>
<text transform="translate(1051.48,389.71) scale(0.9267,1)" font-family="Liberation Sans" font-size="26.65" font-weight="normal" font-style="normal" fill="#0000ff">−</text>
<text transform="translate(1067.80,387.10) scale(1.0263,1)" font-family="Liberation Sans" font-size="21.08" font-weight="normal" font-style="normal" fill="#0000ff">4</text>
<line x1="1167.6000000000001" y1="602.2" x2="1167.6000000000001" y2="588.6" stroke="#000" stroke-width="3.4"/>
<line x1="1253.4" y1="602.2" x2="1253.4" y2="588.6" stroke="#000" stroke-width="3.4"/>
<line x1="1339.2" y1="602.2" x2="1339.2" y2="588.6" stroke="#000" stroke-width="3.4"/>
<line x1="1150.5" y1="575.94" x2="1164.1" y2="575.94" stroke="#000" stroke-width="3.4"/>
<line x1="1150.5" y1="489.26" x2="1164.1" y2="489.26" stroke="#000" stroke-width="3.4"/>
<line x1="1150.5" y1="402.58" x2="1164.1" y2="402.58" stroke="#000" stroke-width="3.4"/>
<line x1="1150.5" y1="315.9" x2="1164.1" y2="315.9" stroke="#000" stroke-width="3.4"/>
<line x1="1150.5" y1="229.21999999999997" x2="1164.1" y2="229.21999999999997" stroke="#000" stroke-width="3.4"/>
<line x1="1150.5" y1="142.53999999999996" x2="1164.1" y2="142.53999999999996" stroke="#000" stroke-width="3.4"/>
<line x1="1150.5" y1="55.85999999999996" x2="1164.1" y2="55.85999999999996" stroke="#000" stroke-width="3.4"/>
<circle cx="1253.40" cy="142.54" r="8.40" fill="#0000ff"/>
<circle cx="1253.40" cy="489.26" r="8.40" fill="#0000ff"/>
<line x1="1167.6000000000001" y1="142.53999999999996" x2="1253.4" y2="142.53999999999996" stroke="#008000" stroke-width="4.4"/>
<line x1="1167.6000000000001" y1="489.26" x2="1253.4" y2="489.26" stroke="#008000" stroke-width="4.4"/>
<rect x="1158.95" y="133.89" width="17.30" height="17.30" fill="#008000"/>
<rect x="1158.95" y="480.61" width="17.30" height="17.30" fill="#008000"/>
<rect x="1244.75" y="220.57" width="17.30" height="17.30" fill="#008000"/>
<rect x="1244.75" y="393.93" width="17.30" height="17.30" fill="#008000"/>
<rect x="1244.75" y="47.21" width="17.30" height="17.30" fill="#008000"/>
<rect x="1244.75" y="567.29" width="17.30" height="17.30" fill="#008000"/>
<line x1="1253.4" y1="575.94" x2="1253.4" y2="55.85999999999996" stroke="#000" stroke-width="4.4" stroke-dasharray="4.2 6.9"/>
<rect x="1150.5" y="30.2" width="197.29999999999995" height="572.0" fill="none" stroke="#000" stroke-width="4.6"/>
<text transform="translate(1105.68,590.94) scale(1.0239,1)" font-family="Liberation Sans" font-size="42.20" font-weight="normal" font-style="normal" fill="#000">-3</text>
<text transform="translate(1105.66,504.26) scale(1.0321,1)" font-family="Liberation Sans" font-size="42.20" font-weight="normal" font-style="normal" fill="#000">-2</text>
<text transform="translate(1105.67,417.58) scale(1.0302,1)" font-family="Liberation Sans" font-size="42.20" font-weight="normal" font-style="normal" fill="#000">-1</text>
<text transform="translate(1119.82,330.90) scale(0.9800,1)" font-family="Liberation Sans" font-size="42.20" font-weight="normal" font-style="normal" fill="#000">0</text>
<text transform="translate(1120.22,244.22) scale(0.9800,1)" font-family="Liberation Sans" font-size="42.20" font-weight="normal" font-style="normal" fill="#000">1</text>
<text transform="translate(1120.28,157.54) scale(0.9800,1)" font-family="Liberation Sans" font-size="42.20" font-weight="normal" font-style="normal" fill="#000">2</text>
<text transform="translate(1120.02,70.86) scale(0.9800,1)" font-family="Liberation Sans" font-size="42.20" font-weight="normal" font-style="normal" fill="#000">3</text>
<text transform="translate(1147.69,637.60) scale(1.0212,1)" font-family="Liberation Sans" font-size="42.20" font-weight="normal" font-style="normal" fill="#000">-1</text>
<text transform="translate(1240.98,637.60) scale(1.0410,1)" font-family="Liberation Sans" font-size="42.20" font-weight="normal" font-style="normal" fill="#000">0</text>
<text transform="translate(1327.51,637.60) scale(0.9618,1)" font-family="Liberation Sans" font-size="42.20" font-weight="normal" font-style="normal" fill="#000">1</text>
<rect x="1172.0" y="274.8" width="163.5" height="82.8" rx="3.5" fill="#fff" stroke="#cccccc" stroke-width="1.9"/>
<line x1="1207.1" y1="292" x2="1207.1" y2="304" stroke="#0000ff" stroke-width="4.4"/>
<circle cx="1207.10" cy="292.20" r="8.50" fill="#0000ff"/>
<line x1="1182" y1="304" x2="1233" y2="304" stroke="#000" stroke-width="4.4" stroke-dasharray="4.2 6.9"/>
<line x1="1207.1" y1="329" x2="1207.1" y2="341.6" stroke="#008000" stroke-width="4.4"/>
<rect x="1198.60" y="320.50" width="17.00" height="17.00" fill="#008000"/>
<line x1="1182" y1="341.6" x2="1233" y2="341.6" stroke="#000" stroke-width="4.4" stroke-dasharray="4.2 6.9"/>
<g transform="translate(1251.93,304.00) scale(1.0631,1)" fill="#000"><text x="0.00" y="0.00" font-family="Liberation Sans" font-size="26.00" font-weight="normal" font-style="normal">Re(</text><text x="41.89" y="0.00" font-family="Liberation Sans" font-size="26.00" font-weight="normal" font-style="italic">I</text><text x="49.12" y="3.90" font-family="Liberation Sans" font-size="18.20" font-weight="normal" font-style="italic">n</text><text x="59.24" y="0.00" font-family="Liberation Sans" font-size="26.00" font-weight="normal" font-style="normal">)</text></g>
<g transform="translate(1251.30,341.60) scale(1.1238,1)" fill="#000"><text x="0.00" y="0.00" font-family="Liberation Sans" font-size="26.00" font-weight="normal" font-style="normal">Im(</text><text x="37.54" y="0.00" font-family="Liberation Sans" font-size="26.00" font-weight="normal" font-style="italic">I</text><text x="44.76" y="3.90" font-family="Liberation Sans" font-size="18.20" font-weight="normal" font-style="italic">n</text><text x="54.89" y="0.00" font-family="Liberation Sans" font-size="26.00" font-weight="normal" font-style="normal">)</text></g>
<text transform="translate(1.55,59.52) scale(1.0023,1)" font-family="Liberation Sans" font-size="59.51" font-weight="bold" font-style="normal" fill="#000">a</text>
<text transform="translate(-4.32,436.82) scale(1.1081,1)" font-family="Liberation Sans" font-size="59.10" font-weight="bold" font-style="normal" fill="#000">b</text>
<text transform="translate(468.83,54.23) scale(1.0027,1)" font-family="Liberation Sans" font-size="57.86" font-weight="bold" font-style="normal" fill="#000">c</text>
<text transform="translate(468.34,427.95) scale(1.1089,1)" font-family="Liberation Sans" font-size="56.37" font-weight="bold" font-style="normal" fill="#000">d</text>
<text transform="translate(1081.00,39.42) scale(1.1623,1)" font-family="Liberation Sans" font-size="59.51" font-weight="bold" font-style="normal" fill="#000">e</text>
<g transform="translate(741.73,395.70) scale(0.9917,1)" fill="#000"><text x="0.00" y="0.00" font-family="Liberation Serif" font-size="51.00" font-weight="bold" font-style="italic">z/L</text><text x="65.17" y="8.16" font-family="Liberation Serif" font-size="35.70" font-weight="bold" font-style="italic">z</text></g>
<g transform="translate(227.74,678.80) scale(0.9954,1)" fill="#000"><text x="0.00" y="0.00" font-family="Liberation Serif" font-size="51.00" font-weight="bold" font-style="italic">z/L</text><text x="65.17" y="8.16" font-family="Liberation Serif" font-size="35.70" font-weight="bold" font-style="italic">z</text></g>
<g transform="translate(719.40,679.30) scale(1.0434,1)" fill="#000"><text x="0.00" y="0.00" font-family="Liberation Serif" font-size="50.00" font-weight="bold" font-style="italic">ωt/</text><text x="63.94" y="-3.50" font-family="Liberation Serif" font-size="46.00" font-weight="bold" font-style="italic">(</text><text x="79.26" y="0.00" font-family="Liberation Serif" font-size="50.00" font-weight="bold" font-style="italic">π</text><text x="106.55" y="-3.50" font-family="Liberation Serif" font-size="46.00" font-weight="bold" font-style="italic">)</text></g>
<g transform="translate(518.50,264.63) rotate(-90) scale(0.9939,1)" fill="#000"><text x="0.00" y="0.00" font-family="Liberation Serif" font-size="40.50" font-weight="bold" font-style="italic">δQ/(ϕe</text><text x="116.14" y="-17.01" font-family="Liberation Serif" font-size="28.35" font-weight="bold" font-style="italic">2</text><text x="130.32" y="0.00" font-family="Liberation Serif" font-size="40.50" font-weight="bold" font-style="italic">/h)</text></g>
<g transform="translate(51.00,585.42) rotate(-90) scale(0.9726,1)" fill="#000"><text x="0.00" y="0.00" font-family="Liberation Serif" font-size="40.50" font-weight="bold" font-style="italic">Q/(ϕe</text><text x="95.40" y="-17.01" font-family="Liberation Serif" font-size="28.35" font-weight="bold" font-style="italic">2</text><text x="109.57" y="0.00" font-family="Liberation Serif" font-size="40.50" font-weight="bold" font-style="italic">/h)</text></g>
<g transform="translate(512.00,598.23) rotate(-90) scale(1.0009,1)" fill="#ff0000"><text x="0.00" y="0.00" font-family="Liberation Serif" font-size="40.50" font-weight="bold" font-style="italic">δP/(ϕe</text><text x="111.63" y="-17.01" font-family="Liberation Serif" font-size="28.35" font-weight="bold" font-style="italic">2</text><text x="125.81" y="0.00" font-family="Liberation Serif" font-size="40.50" font-weight="bold" font-style="italic">/h)</text></g>
<g transform="translate(1080.00,598.20) rotate(-90) scale(1.0068,1)" fill="#0000ff"><text x="0.00" y="0.00" font-family="Liberation Serif" font-size="40.50" font-weight="bold" font-style="italic">I/(ϕe</text><text x="81.91" y="-17.01" font-family="Liberation Serif" font-size="28.35" font-weight="bold" font-style="italic">2</text><text x="96.08" y="0.00" font-family="Liberation Serif" font-size="40.50" font-weight="bold" font-style="italic">ω/h)</text></g>
<g transform="translate(1109.00,380.47) rotate(-90) scale(1.1207,1)" fill="#000"><text x="0.00" y="0.00" font-family="Liberation Sans" font-size="52.00" font-weight="normal" font-style="italic">n</text><text x="28.92" y="0.00" font-family="Liberation Sans" font-size="52.00" font-weight="normal" font-style="normal">/</text><text x="43.37" y="-5.20" font-family="Liberation Sans" font-size="46.80" font-weight="normal" font-style="normal">(</text><text x="58.95" y="0.00" font-family="Liberation Sans" font-size="52.00" font-weight="normal" font-style="italic">ω</text><text x="99.45" y="-5.20" font-family="Liberation Sans" font-size="46.80" font-weight="normal" font-style="normal">)</text></g>
<g transform="translate(1228.62,692.70) scale(1.1103,1)" fill="#000"><text x="0.00" y="0.00" font-family="Liberation Sans" font-size="52.00" font-weight="normal" font-style="italic">I</text><text x="14.45" y="10.40" font-family="Liberation Sans" font-size="36.40" font-weight="normal" font-style="italic">n</text></g>
</svg>
</body></html>
